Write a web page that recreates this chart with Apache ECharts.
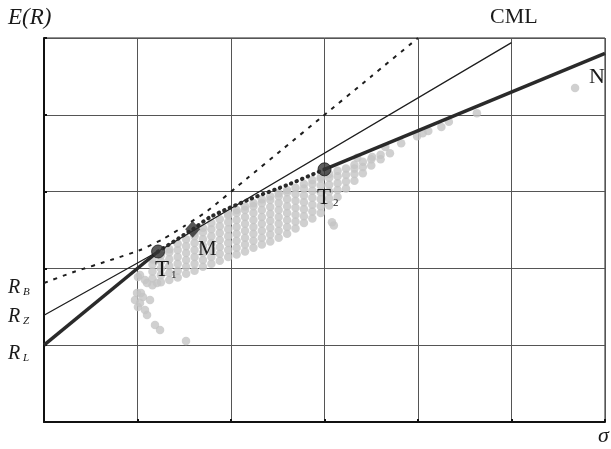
<!DOCTYPE html>
<html>
<head>
<meta charset="utf-8">
<script src="https://cdn.jsdelivr.net/npm/echarts@6/dist/echarts.min.js"></script>
<style>
html,body{margin:0;padding:0;background:#fff;}
#chart{width:611px;height:449px;}
</style>
</head>
<body>
<div id="chart"></div>
<script>
// ---- data (x: sigma, y: E(R), in grid units) ----
const xRange = [0, 6];
const yRange = [0, 5];

const pointRL = [0, 1.00];
const pointRZ = [0, 1.39];
const pointRB = [0, 1.81];
const pointT1 = [1.22, 2.22];
const pointM  = [1.59, 2.51];
const pointT2 = [3.00, 3.29];
const pointN  = [6.00, 4.80];

const boldLower = [pointRL, pointT1];
const frontier = [pointT1, pointM, [1.78, 2.67], [2.20, 2.90], [2.63, 3.10], pointT2];
const boldUpper = [pointT2, pointN];
const cmlLine = [pointRZ, pointT1, [5.00, 4.94]];
const dashedLine = [pointRB, [0.31, 1.95], [0.74, 2.12], [1.03, 2.24], [1.27, 2.38], [1.50, 2.55],
  [1.75, 2.75], [2.17, 3.17], [2.56, 3.56], [2.97, 3.97], [3.49, 4.49], [4.00, 5.00]];

const cloudX = [1.16,1.25,1.34,1.43,1.52,1.61,1.70,1.79,1.88,1.97,2.06,2.15,2.24,2.33,2.42,2.51,2.60,2.69,2.78,2.87,2.96,3.05,3.14,3.23,3.32,3.41,3.50,3.60,3.70];
const cloudY = [
  [1.78,1.87,1.96,2.05,2.12],
  [1.82,1.91,2.00,2.09,2.17],
  [1.85,1.94,2.03,2.12,2.21,2.25],
  [1.88,1.97,2.06,2.15,2.24,2.32],
  [1.93,2.02,2.11,2.20,2.29,2.38],
  [1.97,2.06,2.15,2.24,2.33,2.42,2.46],
  [2.02,2.11,2.20,2.29,2.38,2.47,2.53],
  [2.06,2.15,2.24,2.33,2.42,2.51,2.59],
  [2.10,2.19,2.28,2.37,2.46,2.55,2.64],
  [2.15,2.24,2.33,2.42,2.51,2.60,2.69,2.71],
  [2.18,2.27,2.36,2.45,2.54,2.63,2.72,2.76],
  [2.22,2.31,2.40,2.49,2.58,2.67,2.76,2.81],
  [2.27,2.36,2.45,2.54,2.63,2.72,2.81,2.85],
  [2.31,2.40,2.49,2.58,2.67,2.76,2.85,2.90],
  [2.35,2.44,2.53,2.62,2.71,2.80,2.89,2.94],
  [2.40,2.49,2.58,2.67,2.76,2.85,2.94,2.98],
  [2.45,2.54,2.63,2.72,2.81,2.90,2.99,3.02],
  [2.52,2.61,2.70,2.79,2.88,2.97,3.05],
  [2.59,2.68,2.77,2.86,2.95,3.04,3.10],
  [2.65,2.74,2.83,2.92,3.01,3.10,3.15],
  [2.72,2.81,2.90,2.99,3.08,3.17,3.19],
  [2.82,2.91,3.00,3.09,3.18,3.23],
  [2.93,3.02,3.11,3.20,3.27],
  [3.04,3.13,3.22,3.30],
  [3.14,3.23,3.30,3.35],
  [3.24,3.32,3.39],
  [3.34,3.42],
  [3.42,3.48],
  [3.50]
];
const cloudExtra = [
  [1.005,1.888],[1.027,1.914],[1.080,1.849],[1.102,1.810],[1.209,1.810],[0.995,1.680],
  [1.037,1.680],[1.059,1.628],[0.973,1.589],[1.134,1.589],[1.027,1.549],[1.005,1.497],
  [1.080,1.458],[1.102,1.393],[1.187,1.263],[1.241,1.198],[1.519,1.055],
  [3.08,2.60],[3.10,2.56],[3.35,3.44],[3.51,3.45],[3.65,3.58],[3.82,3.63],[3.99,3.72],
  [4.05,3.76],[4.11,3.79],[4.25,3.84],[4.33,3.91],[4.63,4.02],[5.68,4.35]
];

const cloudData = [];
cloudX.forEach((x, i) => cloudY[i].forEach(y => cloudData.push([x, y])));
cloudExtra.forEach(p => cloudData.push(p));

const chart = echarts.init(document.getElementById('chart'), null, {renderer: 'canvas'});
const serif = 'Liberation Serif, DejaVu Serif, serif';
const ink = '#1e1e1e';

function txt(text, x, y, size, italic) {
  return {type: 'text', left: x, top: y, silent: true, z: 100,
    style: {text: text, fontFamily: serif, fontSize: size, fontStyle: italic ? 'italic' : 'normal', fill: '#1a1a1a'}};
}

const axisCommon = {
  type: 'value', axisLabel: {show: false},
  axisLine: {show: true, lineStyle: {color: '#111', width: 2}},
  axisTick: {show: true, inside: true, length: 3, lineStyle: {color: '#111', width: 2}},
  splitLine: {show: true, lineStyle: {color: '#555', width: 1}}
};

chart.setOption({
  animation: false,
  backgroundColor: '#fff',
  grid: {left: 44, right: 6, top: 38, bottom: 27, show: true, borderColor: '#222', borderWidth: 1},
  xAxis: Object.assign({}, axisCommon, {min: xRange[0], max: xRange[1], interval: 1}),
  yAxis: Object.assign({}, axisCommon, {min: yRange[0], max: yRange[1], interval: 1}),
  series: [
    {type: 'scatter', data: cloudData, symbol: 'circle', symbolSize: 8.5, silent: true, z: 1,
      itemStyle: {color: '#c4c4c4'}},
    {type: 'line', data: cmlLine, showSymbol: false, silent: true, z: 3,
      lineStyle: {color: ink, width: 1.3}},
    {type: 'line', data: dashedLine, showSymbol: false, silent: true, z: 3, smooth: 0.2,
      lineStyle: {color: ink, width: 2, type: [4, 6]}},
    {type: 'line', data: boldLower, showSymbol: false, silent: true, z: 4,
      lineStyle: {color: '#2a2a2a', width: 3.5}},
    {type: 'line', data: frontier, showSymbol: false, silent: true, z: 4, smooth: 0.3,
      lineStyle: {color: '#2a2a2a', width: 4, type: [0.5, 5.5], cap: 'round'}},
    {type: 'line', data: boldUpper, showSymbol: false, silent: true, z: 4,
      lineStyle: {color: '#2a2a2a', width: 3.5}},
    {type: 'scatter', data: [pointT1, pointT2], symbol: 'circle', symbolSize: 13, silent: true, z: 5,
      itemStyle: {color: '#333', borderColor: '#1a1a1a', borderWidth: 1}},
    {type: 'scatter', data: [pointM], symbol: 'diamond', symbolSize: [15, 17], silent: true, z: 5,
      itemStyle: {color: '#2a2a2a'}}
  ],
  graphic: [
    txt('E(R)', 8, 6, 23, true),
    txt('CML', 490, 6, 22, false),
    txt('σ', 598, 425, 22, true),
    txt('R', 8, 278, 20, true), txt('B', 23, 287, 11, true),
    txt('R', 8, 307, 20, true), txt('Z', 23, 316, 11, true),
    txt('R', 8, 344, 20, true), txt('L', 23, 353, 11, true),
    txt('T', 155, 258, 23, false), txt('1', 171, 270, 11, false),
    txt('M', 198, 239, 21, false),
    txt('T', 317, 186, 23, false), txt('2', 333, 198, 11, false),
    txt('N', 589, 66, 22, false)
  ]
});
</script>
</body>
</html>
